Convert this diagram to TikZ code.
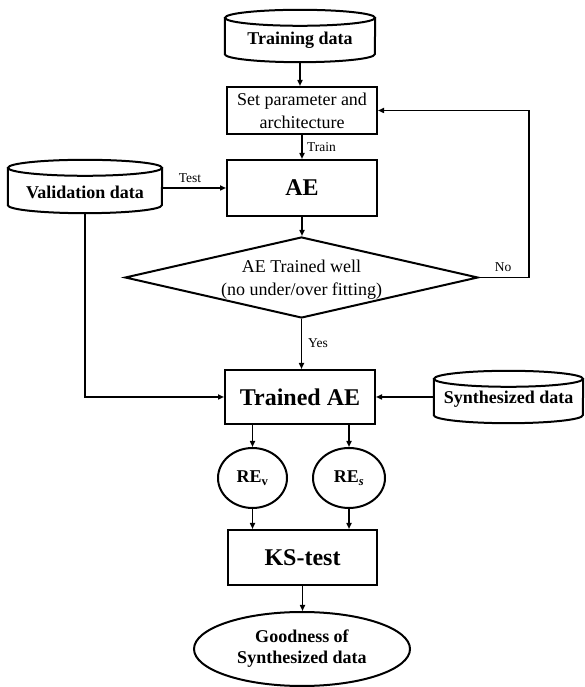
\documentclass[tikz,border=0pt]{standalone}
\usepackage{fontspec}
\setmainfont{Liberation Serif}
\usetikzlibrary{shapes.geometric,arrows.meta,calc}

\tikzset{
  border/.style={line width=2pt},
  boxnode/.style={draw, border, rectangle, inner sep=0pt, align=center},
  arr/.style={line width=1.7pt, -{Triangle[length=6pt,width=5pt]}},
  normal/.style={font=\fontsize{18}{23}\selectfont},
  boldmid/.style={font=\fontsize{18}{21.5}\selectfont\bfseries},
  boldbig/.style={font=\fontsize{24}{28}\selectfont\bfseries},
  small/.style={font=\fontsize{13.5}{16}\selectfont, inner sep=0pt},
}

\newcommand\mycyl[7]{%
  \node[minimum width=#4pt, minimum height=#5pt, inner sep=0pt] (#1) at (#2,#3) {};
  \draw[border] ([yshift=-8pt]#1.north) ellipse [x radius=#4pt/2, y radius=8pt];
  \draw[border] ([yshift=-8pt]#1.north west) -- ([yshift=8pt]#1.south west)
     arc[start angle=180, end angle=360, x radius=#4pt/2, y radius=8pt]
     -- ([yshift=-8pt]#1.north east);
  \node[boldmid, inner sep=0pt] (#1-t) at ([yshift=-#7pt]#1.center) {#6};
}

\begin{document}
\begin{tikzpicture}[x=1pt,y=1pt]
\useasboundingbox (0,0) rectangle (584,687);

% cylinders
\mycyl{train}{300}{651}{150}{52}{Training data}{4}
\mycyl{val}{85}{500.5}{154}{53}{Validation data}{6}
\mycyl{synth}{508.5}{290}{149}{52}{Synthesized data}{2}

% boxes
\node[boxnode, normal, minimum width=150pt, minimum height=47pt] (set) at (302,576.5)
  {Set parameter and\\architecture};
\node[boxnode, boldbig, minimum width=150pt, minimum height=56pt] (ae) at (302,499) {AE};
\node[draw, border, diamond, aspect=4.36, inner sep=0pt, minimum width=353pt,
      minimum height=81pt, normal, align=center, text depth=0pt] (dia) at (301.5,409.5)
  {AE Trained well\\(no under/over fitting)};
\node[boxnode, boldbig, minimum width=150pt, minimum height=54pt] (trained) at (300,290) {Trained AE};
\node[draw, border, ellipse, inner sep=0pt, minimum width=69pt, minimum height=60pt,
      font=\fontsize{18}{20}\selectfont\bfseries] (rev) at (252.5,209) {RE\textsubscript{v}};
\node[draw, border, ellipse, inner sep=0pt, minimum width=72pt, minimum height=60pt,
      font=\fontsize{18}{20}\selectfont\bfseries] (res) at (349,209) {RE\textsubscript{\textit{s}}};
\node[boxnode, boldbig, minimum width=149pt, minimum height=55pt] (ks) at (302.5,129.5) {KS-test};
\node[draw, border, ellipse, inner sep=0pt, minimum width=216pt, minimum height=74pt,
      align=center, font=\fontsize{18}{21}\selectfont\bfseries] (good) at (302,38)
  {Goodness of\\Synthesized data};

% connectors
\draw[arr] (train.south) -- (train.south |- set.north);
\draw[arr] (set.south -| ae.north) -- (ae.north);
\node[small, anchor=west] (trainlbl) at (307,540) {Train};
\draw[arr] (val.east |- ae.west) -- (ae.west);
\node[small] (testlbl) at (190,509) {Test};
\draw[arr] (ae.south) -- (ae.south |- dia.north);

\coordinate (nocorner) at (529,0);
\draw[arr] (dia.east) -| (nocorner |- set.east) -- (set.east);
\node[small] (nolbl) at (503,420) {No};

\draw[arr] (dia.south) -- (dia.south |- trained.north);
\node[small, anchor=west] (yeslbl) at (308,344) {Yes};

\draw[arr] (val.south) |- (trained.west);
\draw[arr] (synth.west |- trained.east) -- (trained.east);

\draw[arr] (rev.north |- trained.south) -- (rev.north);
\draw[arr] (res.north |- trained.south) -- (res.north);
\draw[arr] (rev.south) -- (rev.south |- ks.north);
\draw[arr] (res.south) -- (res.south |- ks.north);
\draw[arr] (ks.south) -- (ks.south |- good.north);
\end{tikzpicture}
\end{document}
